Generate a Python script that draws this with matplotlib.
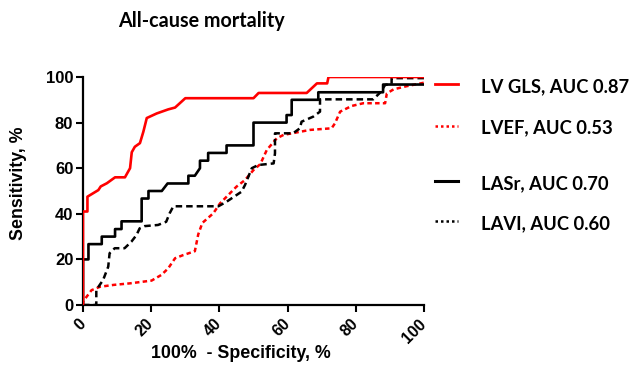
import matplotlib
matplotlib.use('Agg')
import matplotlib.pyplot as plt
from matplotlib.lines import Line2D

# ROC curves (x = 100% - specificity, y = sensitivity)
gls_x = [0, 0, 1.3, 1.3, 4.5, 5.2, 7, 9.4, 12.3, 13.8, 14.3, 15.2, 16.7, 17.7, 18.7, 21.6, 25, 27, 30,
         50, 51.5, 65.6, 68.6, 71.6, 72, 100]
gls_y = [0, 41, 41, 47.5, 50.4, 52, 53.4, 56, 56, 60, 67, 69.4, 71, 76, 82, 84, 85.8, 86.6, 90.7,
         90.7, 93, 93, 97.2, 97.2, 100, 100]

lvef_x = [0, 0, 2.5, 5, 8.9, 13.8, 20.1, 23, 25, 27, 29.4, 32.8, 33.8, 35, 38.2, 40.2, 43.1, 45, 47.5,
          50, 52, 53.9, 56.8, 58.8, 66.6, 72.9, 73.9, 75.4, 78.8, 82.2, 88.6, 89.1, 91.1, 95, 100]
lvef_y = [0, 1.5, 6.5, 8, 8.8, 9.5, 10.7, 13.2, 16.1, 20.5, 21.9, 23.6, 31, 36, 40.2, 44.6, 49, 51.9, 54.8,
          59.2, 61.8, 68, 73.1, 74.6, 76.8, 77.5, 79.7, 84.8, 87.3, 88.5, 88.5, 92.8, 94.6, 96, 97.5]

lasr_x = [0, 0, 1.6, 1.6, 5.5, 5.5, 9.4, 9.4, 11.3, 11.3, 17.2, 17.2, 19.2, 19.2, 23.1, 24.8, 30.9, 30.9,
          32.8, 34.3, 34.3, 36.7, 36.7, 42.1, 42.1, 50, 50, 59.7, 59.7, 61.2, 61.2, 69, 69, 88, 88, 100]
lasr_y = [0, 20, 20, 26.7, 26.7, 30, 30, 33.3, 33.3, 36.7, 36.7, 46.7, 46.7, 50, 50, 53.3, 53.3, 56.7,
          56.7, 60, 63.3, 63.3, 66.7, 66.7, 70, 70, 80, 80, 83.3, 83.3, 90, 90, 93.3, 93.3, 96.7, 96.7]

lavi_x = [0, 3.9, 3.9, 5.9, 7.4, 7.8, 9.3, 12.2, 14.2, 15.7, 16.6, 18.1, 22, 24.4, 25.4, 26.5, 39.7, 42.1,
          45, 46.5, 47.5, 48.5, 49.5, 51.4, 55.9, 56.3, 56.3, 61.6, 63.6, 64.1, 67.5, 69.5, 69.5, 85.1, 87.1,
          88.6, 90.5, 90.5, 100]
lavi_y = [0, 0, 6.6, 11, 16.8, 22.7, 24.9, 24.9, 27.8, 30.7, 33.6, 34.6, 35.1, 36.5, 40.2, 43.3, 43.3, 45.3,
          48.2, 49.7, 52.6, 56.3, 60, 61.4, 62.1, 66.5, 75.3, 75.3, 77.5, 80.4, 82.6, 84.8, 90.2, 90.2, 93.1,
          96.5, 97, 99.5, 99.5]

labels = ['LV GLS, AUC 0.87', 'LVEF, AUC 0.53', 'LASr, AUC 0.70', 'LAVI, AUC 0.60']
ticks = [0, 20, 40, 60, 80, 100]

red = '#ff0000'
fig = plt.figure(figsize=(6.34, 3.74), dpi=100)
ax = fig.add_axes([83 / 634, 1 - 305 / 374, 341 / 634, 228 / 374])

ax.plot(lvef_x, lvef_y, color=red, lw=1.8, dashes=(1.8, 1.3), zorder=2)
ax.plot(lavi_x, lavi_y, color='black', lw=1.8, dashes=(2.6, 1.6), zorder=3)
ax.plot(lasr_x, lasr_y, color='black', lw=1.9, zorder=4)
ax.plot(gls_x, gls_y, color=red, lw=1.9, zorder=5)

ax.set_xlim(0, 100)
ax.set_ylim(0, 100)
ax.set_xticks(ticks)
ax.set_yticks(ticks)
for s in ['top', 'right']:
    ax.spines[s].set_visible(False)
for s in ['left', 'bottom']:
    ax.spines[s].set_linewidth(1.6)
ax.tick_params(width=1.5, length=5, direction='out', pad=2)
ax.tick_params(axis='x', pad=7)
ax.set_yticklabels([str(t) for t in ticks], family='Liberation Sans', weight='bold', size=12)
ax.set_xticklabels([str(t) for t in ticks], rotation=45, ha='right', va='center',
                   rotation_mode='anchor', family='Liberation Sans', weight='bold', size=11.5)

lab_font = dict(family='Liberation Sans', weight='bold', size=12.8)
fig.text(241 / 634, 1 - 353 / 374, '100%  - Specificity, %', ha='center', va='center', **lab_font)
fig.text(19 / 634, 1 - 183 / 374, 'Sensitivity, %', ha='center', va='center', rotation=90, **lab_font)

fig.text(201 / 634, 1 - 21 / 374, 'All-cause mortality', ha='center', va='center',
         family='Lato', weight='bold', size=14.2)

# legend drawn by hand to keep the uneven spacing
line_y = [84, 126, 181, 221]
text_y = [87, 128, 184, 224]
leg_style = [dict(color=red, lw=2.0), dict(color=red, lw=1.8, dashes=(1, 1.2)),
             dict(color='black', lw=2.2), dict(color='black', lw=1.8, dashes=(1, 1.2))]
for ly, ty, st, txt in zip(line_y, text_y, leg_style, labels):
    fy = 1 - ly / 374
    fig.add_artist(Line2D([435 / 634, 458 / 634], [fy, fy], transform=fig.transFigure, **st))
    fig.text(481 / 634, 1 - ty / 374, txt, ha='left', va='center', family='Lato', weight='bold', size=13.2)

fig.savefig('out.png', dpi=100)
